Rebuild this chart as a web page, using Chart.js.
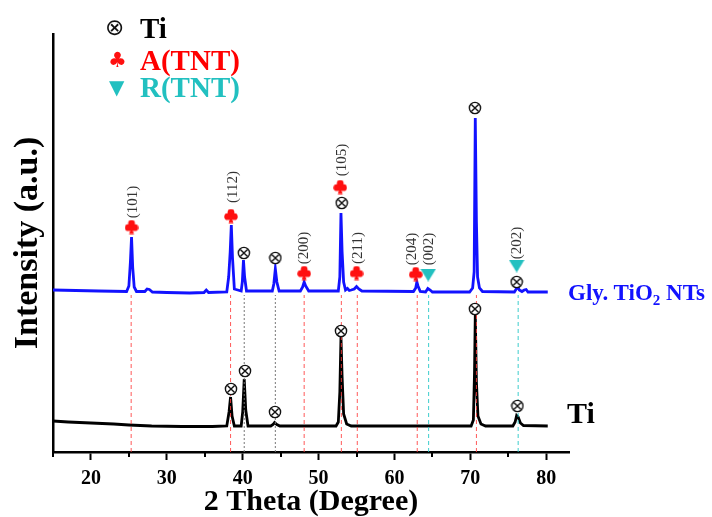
<!DOCTYPE html>
<html>
<head>
<meta charset="utf-8">
<script src="https://cdn.jsdelivr.net/npm/chart.js@4.4.0/dist/chart.umd.min.js"></script>
<style>
  body { margin: 0; background: #fff; }
  #wrap { position: relative; width: 712px; height: 517px; font-family: 'Liberation Serif', 'Times New Roman', serif; }
  #xrd { position: absolute; left: 0; top: 0; }
  .txt { position: absolute; font-weight: bold; white-space: nowrap; line-height: 1; }
  .mk { position: absolute; font-family: 'DejaVu Sans', sans-serif; line-height: 1; }
</style>
</head>
<body>
<div id="wrap">
  <canvas id="xrd" width="712" height="517"></canvas>
  <!-- legend -->
  <div class="mk" style="left:105px;top:16px;font-size:23px;color:#111">⊗</div>
  <div class="txt" style="left:140px;top:14px;font-size:29px;color:#000">Ti</div>
  <div class="mk" style="left:108px;top:50px;font-size:21px;color:#ff1010">♣</div>
  <div class="txt" style="left:140px;top:46px;font-size:29px;color:#ff0000">A(TNT)</div>
  <div class="mk" style="left:109px;top:77px;font-size:20px;color:#22c0c0">▼</div>
  <div class="txt" style="left:140px;top:73px;font-size:29px;color:#22c0c0">R(TNT)</div>
  <!-- curve names -->
  <div class="txt" style="left:568px;top:281px;font-size:23px;color:#1212ff">Gly. TiO<span style="font-size:15px;vertical-align:-5px">2</span> NTs</div>
  <div class="txt" style="left:567px;top:398px;font-size:30px;color:#000">Ti</div>
</div>
<script>
// Ti substrate pattern
const tiX = [15, 17, 20, 23, 25, 28, 32, 36, 37.9, 38.2, 38.4, 38.6, 38.9, 39.8, 40.0, 40.2, 40.4, 40.7,
  43.7, 44.0, 44.2, 44.5, 44.9, 52.3, 52.6, 52.8, 52.95, 53.1, 53.3, 53.7, 54.3,
  70.1, 70.4, 70.55, 70.65, 70.8, 71.0, 71.4, 72.0, 75.6, 75.9, 76.1, 76.3, 76.6, 77.0, 80.2];
const tiY = [31, 30, 29, 28, 27, 26, 25.5, 25.5, 26, 40, 55, 36, 26, 26, 40, 73, 42, 26,
  26, 27.5, 29.5, 27.5, 26, 26, 30, 60, 115, 75, 38, 28, 26,
  26, 32, 80, 137, 70, 36, 28, 26, 26, 30, 36.5, 35, 29, 26.5, 26];

// Gly. TiO2 NTs pattern
const glyX = [15, 18, 21, 24.7, 25.0, 25.2, 25.35, 25.5, 25.7, 26.0, 27.1, 27.4, 27.7, 28.1, 30, 33,
  34.9, 35.2, 35.5, 37.9, 38.15, 38.35, 38.5, 38.65, 38.9, 39.8, 39.95, 40.1, 40.25, 40.5,
  43.9, 44.1, 44.3, 44.5, 44.8, 47.6, 47.9, 48.1, 48.3, 48.7, 52.6, 52.8, 52.95, 53.1, 53.3,
  53.55, 53.8, 54.05, 54.3, 54.7, 55.0, 55.3, 55.7, 62.5, 62.8, 62.95, 63.1, 63.4, 64.1, 64.4,
  64.7, 65.0, 69.9, 70.3, 70.5, 70.65, 70.8, 70.95, 71.2, 71.6, 75.8, 76.05, 76.25, 76.45,
  76.8, 77.1, 77.35, 77.6, 80.2];
const glyY = [162, 161.5, 161, 160.5, 166, 190, 215, 185, 165, 160.5, 160.5, 163, 162.5, 160, 159.5, 159,
  159.5, 162, 159.5, 160, 175, 200, 227, 195, 163, 161, 170, 192, 175, 161,
  161, 168, 183, 170, 161, 161, 165, 170, 166, 161, 161, 175, 239, 200, 170,
  162, 163.5, 161.5, 162, 163, 165.5, 163, 161, 160.5, 164, 170, 166, 160.5, 160, 163.5,
  162, 160, 160, 164, 180, 334, 230, 175, 164, 160.5, 160, 163, 165.5, 162,
  160.5, 162, 162.5, 160, 160];

// phase markers
const tiMarkX = [38.45, 40.3, 44.25, 52.95, 70.6, 76.2];
const tiMarkY = [63, 81, 40, 121, 143, 46];
const glyTiMarkX = [40.15, 44.3, 53.05, 70.6, 76.1];
const glyTiMarkY = [199, 194, 249, 344, 170];
const anataseX = [25.35, 38.45, 48.1, 52.85, 55.0, 62.8];
const anataseY = [225, 236, 179, 265, 179, 178];
const rutileX = [64.45, 76.1];
const rutileY = [177, 186];

// hkl labels
const hklText = ['(101)', '(112)', '(200)', '(105)', '(211)', '(204)', '(002)', '(202)'];
const hklX = [25.5, 38.7, 48.15, 53.15, 55.15, 62.35, 64.6, 76.1];
const hklY = [250, 265, 204, 292, 204, 203, 203, 209];

// reference lines
const anataseLineX = [25.3, 38.4, 48.1, 53.0, 55.1, 63.0, 70.8];
const rutileLineX = [64.5, 76.3];
const tiLineX = [40.2, 44.3];
const lineTop = 157;

// x ticks: every 5, labels on the tens
const xTickValues = [15, 20, 25, 30, 35, 40, 45, 50, 55, 60, 65, 70, 75, 80];
const xTickLabels = [20, 30, 40, 50, 60, 70, 80];

function pts(xs, ys) { return xs.map((x, i) => ({ x: x, y: ys[i] })); }
function vlines(xs) {
  const out = [];
  xs.forEach(x => { out.push({ x: x, y: 0 }, { x: x, y: lineTop }, { x: x, y: null }); });
  return out;
}
const isMajor = v => v % 10 === 0;

function otimes() {
  const c = document.createElement('canvas');
  c.width = 14; c.height = 14;
  const g = c.getContext('2d');
  g.fillStyle = '#fff'; g.strokeStyle = '#111'; g.lineWidth = 1.4;
  g.beginPath(); g.arc(7, 7, 5.6, 0, Math.PI * 2); g.fill(); g.stroke();
  const d = 3.6;
  g.beginPath();
  g.moveTo(7 - d, 7 - d); g.lineTo(7 + d, 7 + d);
  g.moveTo(7 + d, 7 - d); g.lineTo(7 - d, 7 + d);
  g.stroke();
  return c;
}
function club() {
  const c = document.createElement('canvas');
  c.width = 14; c.height = 15;
  const g = c.getContext('2d');
  g.fillStyle = '#ff1010';
  [[7, 4], [3.7, 8.2], [10.3, 8.2]].forEach(p => { g.beginPath(); g.arc(p[0], p[1], 3.4, 0, Math.PI * 2); g.fill(); });
  g.beginPath(); g.moveTo(7, 7); g.lineTo(4.6, 14.5); g.lineTo(9.4, 14.5); g.closePath(); g.fill();
  return c;
}
function triDown() {
  const c = document.createElement('canvas');
  c.width = 16; c.height = 13;
  const g = c.getContext('2d');
  g.fillStyle = '#22c0c0';
  g.beginPath(); g.moveTo(0, 0); g.lineTo(16, 0); g.lineTo(8, 13); g.closePath(); g.fill();
  return c;
}

// hkl labels (rotated) and short minor ticks on the x axis
const hklPlugin = {
  id: 'hkl',
  afterDatasetsDraw(chart) {
    const { ctx, scales: { x, y } } = chart;
    ctx.save();
    ctx.fillStyle = '#333';
    ctx.font = "15px 'Liberation Serif', serif";
    ctx.textAlign = 'center';
    ctx.textBaseline = 'middle';
    hklText.forEach((t, i) => {
      ctx.save();
      ctx.translate(x.getPixelForValue(hklX[i]), y.getPixelForValue(hklY[i]));
      ctx.rotate(-Math.PI / 2);
      ctx.fillText(t, 0, 0);
      ctx.restore();
    });
    ctx.restore();
  },
  afterDraw(chart) {
    const { ctx, scales: { x } } = chart;
    ctx.save();
    ctx.strokeStyle = '#000';
    ctx.lineWidth = 2;
    x.ticks.forEach(t => {
      if (isMajor(t.value)) return;
      const px = Math.round(x.getPixelForValue(t.value));
      ctx.beginPath(); ctx.moveTo(px, x.top); ctx.lineTo(px, x.top + 5); ctx.stroke();
    });
    ctx.restore();
  }
};

const markTi = otimes(), markA = club(), markR = triDown();

new Chart(document.getElementById('xrd'), {
  type: 'line',
  data: {
    datasets: [
      { data: vlines(anataseLineX), borderColor: 'rgba(255,60,60,0.85)', borderWidth: 1, borderDash: [4, 3], pointRadius: 0, order: 1 },
      { data: vlines(rutileLineX), borderColor: 'rgba(40,200,200,0.9)', borderWidth: 1, borderDash: [4, 3], pointRadius: 0, order: 1 },
      { data: vlines(tiLineX), borderColor: '#777', borderWidth: 1, borderDash: [2, 2], pointRadius: 0, order: 1 },
      { data: pts(tiX, tiY), borderColor: '#000', borderWidth: 2.8, pointRadius: 0, order: 2 },
      { data: pts(glyX, glyY), borderColor: '#1212ff', borderWidth: 2.8, pointRadius: 0, order: 2 },
      { data: pts(tiMarkX.concat(glyTiMarkX), tiMarkY.concat(glyTiMarkY)), showLine: false, pointStyle: markTi, order: 0 },
      { data: pts(anataseX, anataseY), showLine: false, pointStyle: markA, order: 0 },
      { data: pts(rutileX, rutileY), showLine: false, pointStyle: markR, order: 0 }
    ]
  },
  options: {
    responsive: false,
    animation: false,
    layout: { padding: { top: 34, right: 143, left: 0, bottom: 0 } },
    plugins: { legend: { display: false }, tooltip: { enabled: false } },
    elements: { line: { tension: 0 } },
    scales: {
      x: {
        type: 'linear', min: 15, max: 83,
        afterBuildTicks: s => { s.ticks = xTickValues.map(v => ({ value: v })); },
        afterFit: s => { s.height = 65; },
        ticks: {
          padding: 7, color: '#000', maxRotation: 0, autoSkip: false,
          font: { family: "'Liberation Serif', serif", size: 20, weight: 'bold' },
          callback: v => xTickLabels.includes(v) ? String(v) : ''
        },
        grid: {
          drawOnChartArea: false, tickLength: 8, tickWidth: 2,
          tickColor: c => (c.tick && isMajor(c.tick.value)) ? '#000' : 'rgba(0,0,0,0)'
        },
        border: { color: '#000', width: 2.5 },
        title: {
          display: true, text: '2 Theta (Degree)', color: '#000', padding: 0,
          font: { family: "'Liberation Serif', serif", size: 30, weight: 'bold', lineHeight: 1 }
        }
      },
      y: {
        min: 0, max: 418,
        afterFit: s => { s.width = 53; },
        ticks: { display: false },
        grid: { display: false },
        border: { display: true, color: '#000', width: 2.5 },
        title: {
          display: true, text: 'Intensity (a.u.)', color: '#000', padding: { top: 11, bottom: 0 },
          font: { family: "'Liberation Serif', serif", size: 34, weight: 'bold', lineHeight: 1 }
        }
      }
    }
  },
  plugins: [hklPlugin]
});
</script>
</body>
</html>
